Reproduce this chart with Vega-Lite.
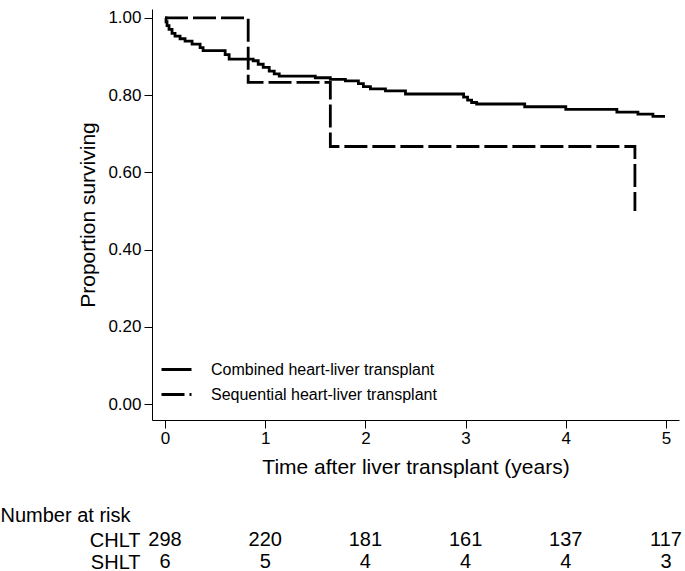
{
  "$schema": "https://vega.github.io/schema/vega-lite/v6.json",
  "padding": {"left": 0, "top": 8, "right": 2, "bottom": 0},
  "background": "white",
  "spacing": 28,
  "config": {
    "view": {"stroke": null},
    "font": "Liberation Sans",
    "axis": {
      "grid": false,
      "domainColor": "black",
      "tickColor": "black",
      "labelColor": "black",
      "titleColor": "black",
      "labelFont": "Liberation Sans",
      "titleFont": "Liberation Sans",
      "titleFontWeight": "normal"
    },
    "legend": {"labelFont": "Liberation Sans", "labelColor": "black"}
  },
  "vconcat": [
    {
      "width": 527,
      "height": 411,
      "data": {
        "values": [
          {"t": 0, "s": 1.0, "group": "Combined heart-liver transplant"},
          {"t": 0.01, "s": 0.99, "group": "Combined heart-liver transplant"},
          {"t": 0.02, "s": 0.98, "group": "Combined heart-liver transplant"},
          {"t": 0.04, "s": 0.97, "group": "Combined heart-liver transplant"},
          {"t": 0.07, "s": 0.96, "group": "Combined heart-liver transplant"},
          {"t": 0.1, "s": 0.953, "group": "Combined heart-liver transplant"},
          {"t": 0.15, "s": 0.946, "group": "Combined heart-liver transplant"},
          {"t": 0.2, "s": 0.94, "group": "Combined heart-liver transplant"},
          {"t": 0.27, "s": 0.932, "group": "Combined heart-liver transplant"},
          {"t": 0.35, "s": 0.923, "group": "Combined heart-liver transplant"},
          {"t": 0.38, "s": 0.915, "group": "Combined heart-liver transplant"},
          {"t": 0.6, "s": 0.905, "group": "Combined heart-liver transplant"},
          {"t": 0.64, "s": 0.893, "group": "Combined heart-liver transplant"},
          {"t": 0.88, "s": 0.889, "group": "Combined heart-liver transplant"},
          {"t": 0.93, "s": 0.88, "group": "Combined heart-liver transplant"},
          {"t": 0.98, "s": 0.872, "group": "Combined heart-liver transplant"},
          {"t": 1.04, "s": 0.862, "group": "Combined heart-liver transplant"},
          {"t": 1.09, "s": 0.855, "group": "Combined heart-liver transplant"},
          {"t": 1.14, "s": 0.849, "group": "Combined heart-liver transplant"},
          {"t": 1.5, "s": 0.845, "group": "Combined heart-liver transplant"},
          {"t": 1.65, "s": 0.841, "group": "Combined heart-liver transplant"},
          {"t": 1.8, "s": 0.837, "group": "Combined heart-liver transplant"},
          {"t": 1.93, "s": 0.83, "group": "Combined heart-liver transplant"},
          {"t": 1.98, "s": 0.822, "group": "Combined heart-liver transplant"},
          {"t": 2.05, "s": 0.816, "group": "Combined heart-liver transplant"},
          {"t": 2.2, "s": 0.811, "group": "Combined heart-liver transplant"},
          {"t": 2.4, "s": 0.803, "group": "Combined heart-liver transplant"},
          {"t": 2.98, "s": 0.795, "group": "Combined heart-liver transplant"},
          {"t": 3.02, "s": 0.787, "group": "Combined heart-liver transplant"},
          {"t": 3.06, "s": 0.781, "group": "Combined heart-liver transplant"},
          {"t": 3.11, "s": 0.777, "group": "Combined heart-liver transplant"},
          {"t": 3.59, "s": 0.77, "group": "Combined heart-liver transplant"},
          {"t": 4.0, "s": 0.763, "group": "Combined heart-liver transplant"},
          {"t": 4.51, "s": 0.756, "group": "Combined heart-liver transplant"},
          {"t": 4.72, "s": 0.751, "group": "Combined heart-liver transplant"},
          {"t": 4.87, "s": 0.745, "group": "Combined heart-liver transplant"},
          {"t": 4.99, "s": 0.745, "group": "Combined heart-liver transplant"},
          {"t": 0, "s": 1.0, "group": "Sequential heart-liver transplant"},
          {"t": 0.83, "s": 0.833, "group": "Sequential heart-liver transplant"},
          {"t": 1.65, "s": 0.667, "group": "Sequential heart-liver transplant"},
          {"t": 4.69, "s": 0.5, "group": "Sequential heart-liver transplant"}
        ]
      },
      "mark": {"type": "line", "interpolate": "step-after", "strokeWidth": 2.8, "color": "black"},
      "encoding": {
        "x": {
          "field": "t",
          "type": "quantitative",
          "scale": {"domain": [-0.13, 5.13], "nice": false, "zero": false},
          "axis": {
            "values": [0, 1, 2, 3, 4, 5],
            "format": "d",
            "title": "Time after liver transplant (years)",
            "tickSize": 8,
            "labelPadding": 2,
            "labelFontSize": 17,
            "titleFontSize": 21,
            "titlePadding": 10,
            "labelFlush": false
          }
        },
        "y": {
          "field": "s",
          "type": "quantitative",
          "scale": {"domain": [-0.041, 1.023], "nice": false, "zero": false},
          "axis": {
            "values": [0, 0.2, 0.4, 0.6, 0.8, 1],
            "format": ".2f",
            "title": "Proportion surviving",
            "tickSize": 8,
            "labelPadding": 3,
            "labelFontSize": 17,
            "titleFontSize": 21,
            "titlePadding": 9
          }
        },
        "strokeDash": {
          "field": "group",
          "type": "nominal",
          "scale": {
            "domain": ["Combined heart-liver transplant", "Sequential heart-liver transplant"],
            "range": [[1, 0], [23, 5]]
          },
          "legend": {
            "title": null,
            "orient": "none",
            "legendX": 8,
            "legendY": 344,
            "symbolType": "stroke",
            "symbolSize": 900,
            "symbolStrokeWidth": 3,
            "symbolStrokeColor": "black",
            "symbolDash": [16, 5],
            "labelFontSize": 16,
            "labelOffset": 18,
            "labelLimit": 0,
            "rowPadding": -5
          }
        }
      }
    },
    {
      "width": 527,
      "height": 44,
      "data": {
        "values": [
          {"t": 0, "row": "CHLT", "n": 298},
          {"t": 1, "row": "CHLT", "n": 220},
          {"t": 2, "row": "CHLT", "n": 181},
          {"t": 3, "row": "CHLT", "n": 161},
          {"t": 4, "row": "CHLT", "n": 137},
          {"t": 5, "row": "CHLT", "n": 117},
          {"t": 0, "row": "SHLT", "n": 6},
          {"t": 1, "row": "SHLT", "n": 5},
          {"t": 2, "row": "SHLT", "n": 4},
          {"t": 3, "row": "SHLT", "n": 4},
          {"t": 4, "row": "SHLT", "n": 4},
          {"t": 5, "row": "SHLT", "n": 3}
        ]
      },
      "mark": {"type": "text", "fontSize": 20, "font": "Liberation Sans", "color": "black"},
      "encoding": {
        "x": {
          "field": "t",
          "type": "quantitative",
          "scale": {"domain": [-0.13, 5.13], "nice": false, "zero": false},
          "axis": null
        },
        "y": {
          "field": "row",
          "type": "nominal",
          "sort": ["CHLT", "SHLT"],
          "axis": {
            "title": "Number at risk",
            "titleAngle": 0,
            "titleX": -152,
            "titleY": -14,
            "titleAlign": "left",
            "titleBaseline": "middle",
            "titleFontSize": 20,
            "labelFontSize": 20,
            "domain": false,
            "ticks": false,
            "labelPadding": 12
          }
        },
        "text": {"field": "n", "type": "quantitative"}
      }
    }
  ]
}
